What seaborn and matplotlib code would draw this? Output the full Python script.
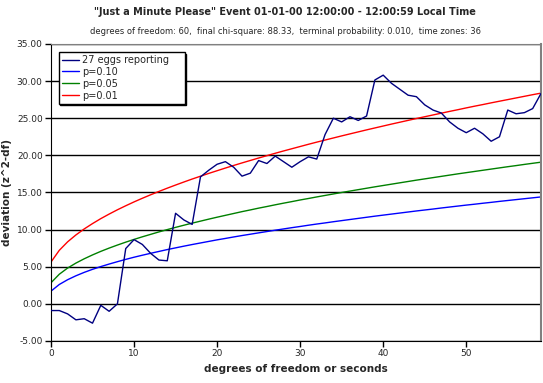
import pandas as pd
import seaborn as sns
import matplotlib
matplotlib.use('Agg')
import matplotlib.pyplot as plt

# seconds / degrees of freedom (category axis labels 0..59)
seconds = list(range(60))

# cumulative deviation (chi-square - df) of the eggs
eggs = [-0.9, -0.9, -1.35, -2.15, -2.0, -2.6, -0.2, -1.0, 0.0, 7.45,
        8.65, 8.0, 6.8, 5.9, 5.8, 12.2, 11.3, 10.7, 17.1, 18.0,
        18.8, 19.15, 18.4, 17.2, 17.6, 19.3, 18.9, 19.9, 19.15, 18.4,
        19.15, 19.8, 19.5, 22.8, 25.0, 24.5, 25.2, 24.7, 25.3, 30.15,
        30.8, 29.7, 28.9, 28.1, 27.9, 26.8, 26.1, 25.7, 24.5, 23.65,
        23.05, 23.65, 22.9, 21.9, 22.5, 26.1, 25.6, 25.75, 26.3, 28.33]

# significance curves
p10 = [1.71, 2.61, 3.25, 3.78, 4.24, 4.65, 5.02, 5.36, 5.68, 5.99,
       6.28, 6.55, 6.81, 7.06, 7.31, 7.54, 7.77, 7.99, 8.20, 8.41,
       8.62, 8.81, 9.01, 9.20, 9.38, 9.56, 9.74, 9.92, 10.09, 10.26,
       10.42, 10.59, 10.75, 10.90, 11.06, 11.21, 11.36, 11.51, 11.66, 11.81,
       11.95, 12.09, 12.23, 12.37, 12.51, 12.64, 12.77, 12.91, 13.04, 13.17,
       13.30, 13.42, 13.55, 13.67, 13.80, 13.92, 14.04, 14.16, 14.28, 14.40]
p05 = [2.84, 3.99, 4.82, 5.49, 6.07, 6.59, 7.07, 7.51, 7.92, 8.31,
       8.68, 9.03, 9.36, 9.69, 10.00, 10.30, 10.59, 10.87, 11.14, 11.41,
       11.67, 11.92, 12.17, 12.42, 12.65, 12.89, 13.11, 13.34, 13.56, 13.77,
       13.99, 14.19, 14.40, 14.60, 14.80, 15.00, 15.19, 15.38, 15.57, 15.76,
       15.94, 16.12, 16.30, 16.48, 16.66, 16.83, 17.00, 17.17, 17.34, 17.51,
       17.67, 17.83, 17.99, 18.15, 18.31, 18.47, 18.62, 18.78, 18.93, 19.08]
p01 = [5.63, 7.21, 8.35, 9.28, 10.09, 10.81, 11.48, 12.09, 12.67, 13.21,
       13.73, 14.22, 14.69, 15.14, 15.58, 16.00, 16.41, 16.81, 17.19, 17.57,
       17.93, 18.29, 18.64, 18.98, 19.31, 19.64, 19.96, 20.28, 20.59, 20.89,
       21.19, 21.49, 21.78, 22.06, 22.34, 22.62, 22.89, 23.16, 23.43, 23.69,
       23.95, 24.21, 24.46, 24.71, 24.96, 25.20, 25.44, 25.68, 25.92, 26.15,
       26.39, 26.62, 26.84, 27.07, 27.29, 27.51, 27.73, 27.95, 28.17, 28.38]

series_names = ['27 eggs reporting', 'p=0.10', 'p=0.05', 'p=0.01']
colors = ['#000080', '#0000FF', '#008000', '#FF0000']


def main():
    df = pd.concat([
        pd.DataFrame({'sec': seconds, 'dev': vals, 'series': name})
        for name, vals in zip(series_names, [eggs, p10, p05, p01])
    ])

    sns.set_style('white')
    plt.rcParams['font.family'] = ['DejaVu Sans']

    fig = plt.figure(figsize=(5.43, 3.83), dpi=100)
    ax = fig.add_axes([0.0939, 0.1097, 0.9024, 0.7755])

    sns.lineplot(data=df, x='sec', y='dev', hue='series',
                 hue_order=series_names, palette=colors, lw=1, ax=ax)
    ax.lines[0].set_zorder(4)

    ax.set_xlim(0, 59)
    ax.set_ylim(-5, 35)
    ax.set_xticks(range(0, 60, 10))
    ax.set_yticks(range(-5, 36, 5))
    ax.set_yticklabels(['%.2f' % v for v in range(-5, 36, 5)])
    ax.tick_params(axis='both', labelsize=6.5, length=4, width=1,
                   color='black', direction='out', pad=2)
    ax.tick_params(left=True, bottom=True)

    ax.set_axisbelow(True)
    ax.yaxis.grid(True, color='black', lw=1)
    ax.xaxis.grid(False)
    ax.spines['left'].set_color('black')
    ax.spines['bottom'].set_color('black')
    ax.spines['top'].set_color('#808080')
    ax.spines['right'].set_color('#808080')
    ax.spines['right'].set_linewidth(1.5)

    ax.set_xlabel('degrees of freedom or seconds', fontsize=7.5,
                  fontweight='bold', labelpad=4)
    ax.set_ylabel('deviation (z^2-df)', fontsize=7.5, fontweight='bold')
    ax.yaxis.set_label_coords(-0.08, 0.5)

    fig.text(0.525, 0.968, '"Just a Minute Please" Event 01-01-00 12:00:00 - '
             '12:00:59 Local Time', ha='center', va='center', fontsize=7,
             fontweight='bold')
    fig.text(0.525, 0.918, 'degrees of freedom: 60,  final chi-square: 88.33,  '
             'terminal probability: 0.010,  time zones: 36', ha='center',
             va='center', fontsize=6)

    handles, labels = ax.get_legend_handles_labels()
    leg = ax.legend(handles, labels, loc='upper left',
                    bbox_to_anchor=(0.016, 0.973, 0.257, 0), mode='expand',
                    fontsize=7, frameon=True, fancybox=False,
                    shadow={'color': 'black', 'alpha': 1, 'ox': 1.2, 'oy': -1.2},
                    borderpad=0.3, labelspacing=0.2, handlelength=1.8,
                    handletextpad=0.3, borderaxespad=0)
    leg.get_frame().set_edgecolor('black')
    leg.get_frame().set_linewidth(1)
    leg.get_frame().set_alpha(1)

    plt.savefig('out.png', dpi=100)


if __name__ == '__main__':
    main()
